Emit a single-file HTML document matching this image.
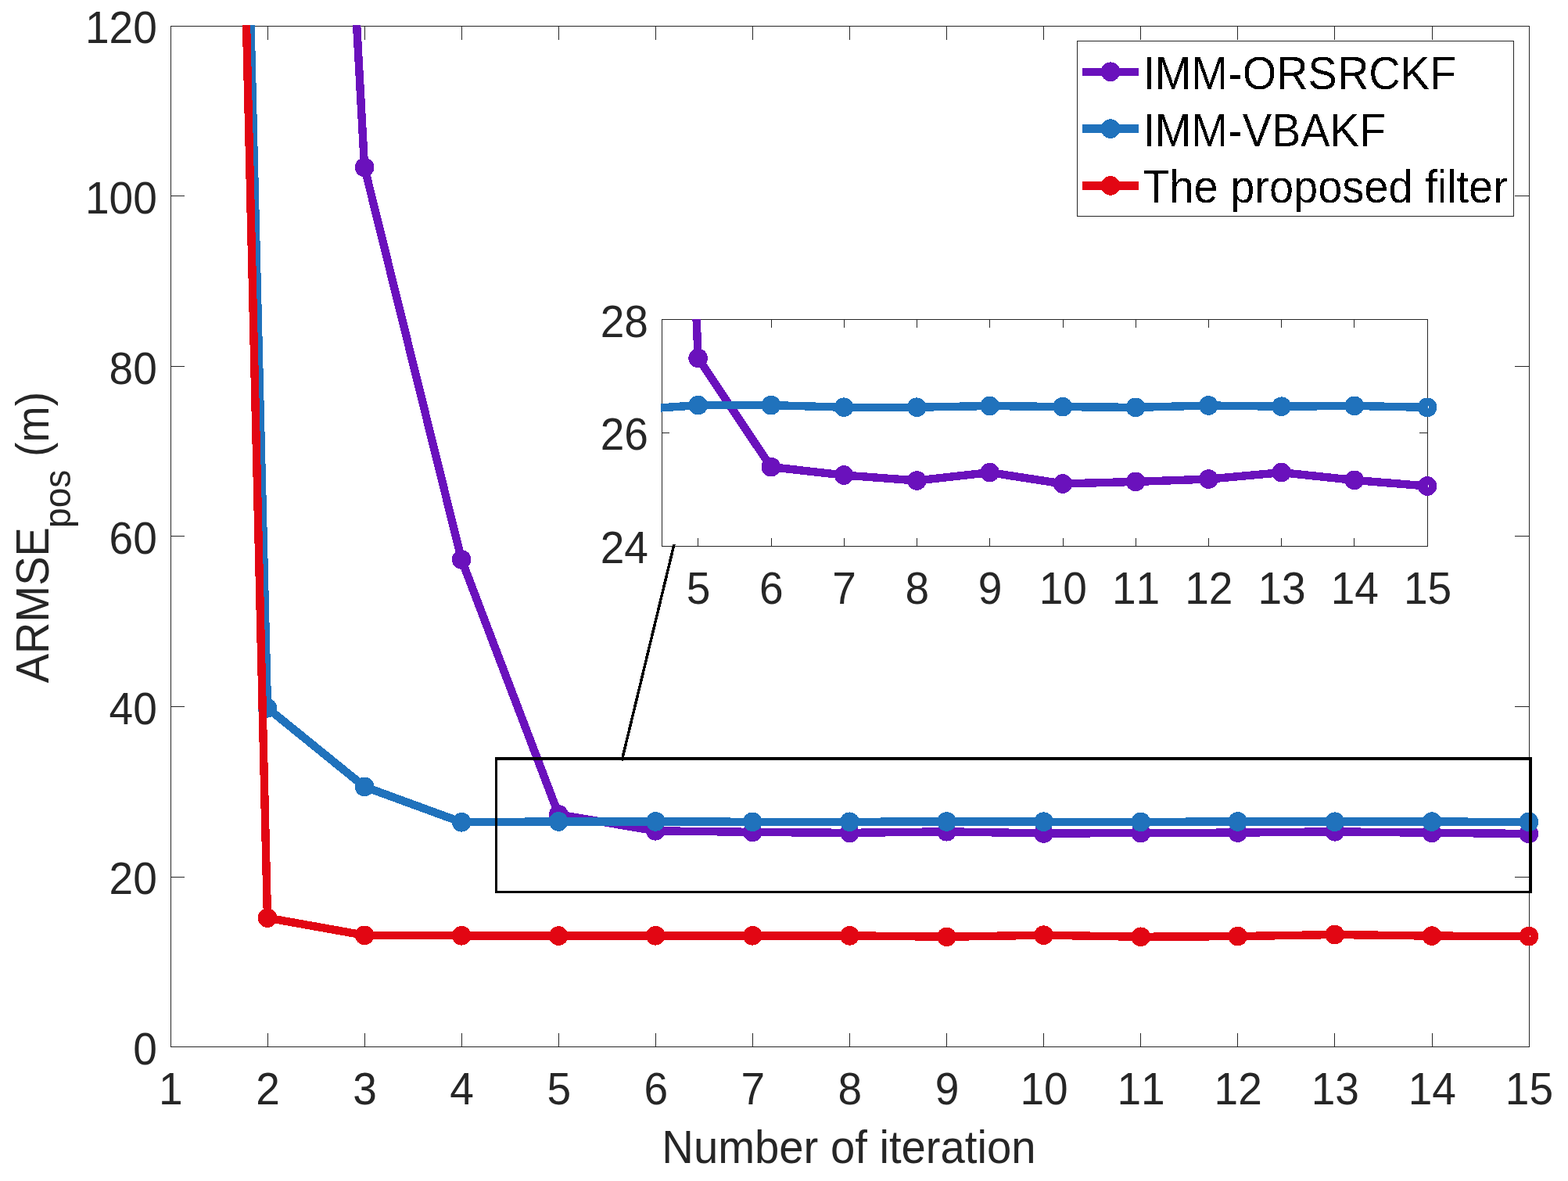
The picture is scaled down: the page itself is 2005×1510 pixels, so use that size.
<!DOCTYPE html>
<html lang="en">
<head>
<meta charset="utf-8">
<title>ARMSE vs. number of iteration</title>
<style>
html,body{margin:0;padding:0;background:#fff;}
body{width:2005px;height:1510px;overflow:hidden;}
svg{display:block;}
text{font-kerning:none;font-variant-ligatures:none;white-space:pre;}
</style>
</head>
<body>
<svg width="2005" height="1510" viewBox="0 0 2005 1510">
<rect x="0" y="0" width="2005" height="1510" fill="#ffffff"/>
<defs>
<clipPath id="cm"><rect x="218.0" y="32.0" width="1738.0" height="1307.0"/></clipPath>
<clipPath id="ci"><rect x="845.0" y="408.0" width="981.0" height="291.0"/></clipPath>
<filter id="hard" filterUnits="userSpaceOnUse" x="1455" y="55" width="480" height="220" color-interpolation-filters="sRGB"><feComponentTransfer><feFuncA type="discrete" tableValues="0 0 0 1 1"/></feComponentTransfer></filter>
</defs>
<g id="main-axes">
<g fill="#262626" shape-rendering="crispEdges">
<path fill-rule="evenodd" d="M218 33 H1956 V1339 H218 Z M219 34 V1338 H1955 V34 Z"/>
<path d="M342 1321h1v17h-1zM342 34h1v17h-1zM466 1321h1v17h-1zM466 34h1v17h-1zM590 1321h1v17h-1zM590 34h1v17h-1zM714 1321h1v17h-1zM714 34h1v17h-1zM838 1321h1v17h-1zM838 34h1v17h-1zM962 1321h1v17h-1zM962 34h1v17h-1zM1086 1321h1v17h-1zM1086 34h1v17h-1zM1210 1321h1v17h-1zM1210 34h1v17h-1zM1334 1321h1v17h-1zM1334 34h1v17h-1zM1458 1321h1v17h-1zM1458 34h1v17h-1zM1582 1321h1v17h-1zM1582 34h1v17h-1zM1706 1321h1v17h-1zM1706 34h1v17h-1zM1831 1321h1v17h-1zM1831 34h1v17h-1zM219 1121h17v1h-17zM1937 1121h18v1h-18zM219 903h17v1h-17zM1937 903h18v1h-18zM219 685h17v1h-17zM1937 685h18v1h-18zM219 468h17v1h-17zM1937 468h18v1h-18zM219 250h17v1h-17zM1937 250h18v1h-18z"/>
</g>
<g shape-rendering="crispEdges">
<g clip-path="url(#cm)"><polyline fill="none" stroke="#6A11BC" stroke-width="10.4" stroke-linejoin="round" points="217.95,-4300 342.02,-2057.1 466.09,214 590.16,715.4 714.24,1041.4 838.31,1062.3 962.38,1063.9 1086.45,1064.9 1210.52,1063.3 1334.59,1065.5 1458.66,1065.1 1582.74,1064.6 1706.81,1063.3 1830.88,1064.8 1955.55,1066.01"/></g>
<path fill="#6A11BC" fill-rule="evenodd" d="M453.79 214 A12.3 12.3 0 1 1 478.39 214 A12.3 12.3 0 1 1 453.79 214 Z M464.19 214 A1.9 1.9 0 1 0 467.99 214 A1.9 1.9 0 1 0 464.19 214 Z"/>
<path fill="#6A11BC" fill-rule="evenodd" d="M577.86 715.4 A12.3 12.3 0 1 1 602.46 715.4 A12.3 12.3 0 1 1 577.86 715.4 Z M588.26 715.4 A1.9 1.9 0 1 0 592.06 715.4 A1.9 1.9 0 1 0 588.26 715.4 Z"/>
<path fill="#6A11BC" fill-rule="evenodd" d="M701.94 1041.4 A12.3 12.3 0 1 1 726.54 1041.4 A12.3 12.3 0 1 1 701.94 1041.4 Z M712.34 1041.4 A1.9 1.9 0 1 0 716.14 1041.4 A1.9 1.9 0 1 0 712.34 1041.4 Z"/>
<path fill="#6A11BC" fill-rule="evenodd" d="M826.01 1062.3 A12.3 12.3 0 1 1 850.61 1062.3 A12.3 12.3 0 1 1 826.01 1062.3 Z M836.41 1062.3 A1.9 1.9 0 1 0 840.21 1062.3 A1.9 1.9 0 1 0 836.41 1062.3 Z"/>
<path fill="#6A11BC" fill-rule="evenodd" d="M950.08 1063.9 A12.3 12.3 0 1 1 974.68 1063.9 A12.3 12.3 0 1 1 950.08 1063.9 Z M960.48 1063.9 A1.9 1.9 0 1 0 964.28 1063.9 A1.9 1.9 0 1 0 960.48 1063.9 Z"/>
<path fill="#6A11BC" fill-rule="evenodd" d="M1074.15 1064.9 A12.3 12.3 0 1 1 1098.75 1064.9 A12.3 12.3 0 1 1 1074.15 1064.9 Z M1084.55 1064.9 A1.9 1.9 0 1 0 1088.35 1064.9 A1.9 1.9 0 1 0 1084.55 1064.9 Z"/>
<path fill="#6A11BC" fill-rule="evenodd" d="M1198.22 1063.3 A12.3 12.3 0 1 1 1222.82 1063.3 A12.3 12.3 0 1 1 1198.22 1063.3 Z M1208.62 1063.3 A1.9 1.9 0 1 0 1212.42 1063.3 A1.9 1.9 0 1 0 1208.62 1063.3 Z"/>
<path fill="#6A11BC" fill-rule="evenodd" d="M1322.29 1065.5 A12.3 12.3 0 1 1 1346.89 1065.5 A12.3 12.3 0 1 1 1322.29 1065.5 Z M1332.69 1065.5 A1.9 1.9 0 1 0 1336.49 1065.5 A1.9 1.9 0 1 0 1332.69 1065.5 Z"/>
<path fill="#6A11BC" fill-rule="evenodd" d="M1446.36 1065.1 A12.3 12.3 0 1 1 1470.96 1065.1 A12.3 12.3 0 1 1 1446.36 1065.1 Z M1456.76 1065.1 A1.9 1.9 0 1 0 1460.56 1065.1 A1.9 1.9 0 1 0 1456.76 1065.1 Z"/>
<path fill="#6A11BC" fill-rule="evenodd" d="M1570.44 1064.6 A12.3 12.3 0 1 1 1595.04 1064.6 A12.3 12.3 0 1 1 1570.44 1064.6 Z M1580.84 1064.6 A1.9 1.9 0 1 0 1584.64 1064.6 A1.9 1.9 0 1 0 1580.84 1064.6 Z"/>
<path fill="#6A11BC" fill-rule="evenodd" d="M1694.51 1063.3 A12.3 12.3 0 1 1 1719.11 1063.3 A12.3 12.3 0 1 1 1694.51 1063.3 Z M1704.91 1063.3 A1.9 1.9 0 1 0 1708.71 1063.3 A1.9 1.9 0 1 0 1704.91 1063.3 Z"/>
<path fill="#6A11BC" fill-rule="evenodd" d="M1818.58 1064.8 A12.3 12.3 0 1 1 1843.18 1064.8 A12.3 12.3 0 1 1 1818.58 1064.8 Z M1828.98 1064.8 A1.9 1.9 0 1 0 1832.78 1064.8 A1.9 1.9 0 1 0 1828.98 1064.8 Z"/>
<path fill="#6A11BC" fill-rule="evenodd" d="M1942.65 1066 A12.3 12.3 0 1 1 1967.25 1066 A12.3 12.3 0 1 1 1942.65 1066 Z M1953.05 1066 A1.9 1.9 0 1 0 1956.85 1066 A1.9 1.9 0 1 0 1953.05 1066 Z"/>
<g clip-path="url(#cm)"><polyline fill="none" stroke="#2072BC" stroke-width="10.4" stroke-linejoin="round" points="217.95,-4131.6 342.02,905.3 466.09,1005.9 590.16,1051.3 714.24,1050.4 838.31,1050.4 962.38,1050.8 1086.45,1050.8 1210.52,1050.5 1334.59,1050.7 1458.66,1050.9 1582.74,1050.5 1706.81,1050.7 1830.88,1050.6 1955.55,1050.9"/></g>
<path fill="#2072BC" fill-rule="evenodd" d="M329.72 905.3 A12.3 12.3 0 1 1 354.32 905.3 A12.3 12.3 0 1 1 329.72 905.3 Z M340.12 905.3 A1.9 1.9 0 1 0 343.92 905.3 A1.9 1.9 0 1 0 340.12 905.3 Z"/>
<path fill="#2072BC" fill-rule="evenodd" d="M453.79 1005.9 A12.3 12.3 0 1 1 478.39 1005.9 A12.3 12.3 0 1 1 453.79 1005.9 Z M464.19 1005.9 A1.9 1.9 0 1 0 467.99 1005.9 A1.9 1.9 0 1 0 464.19 1005.9 Z"/>
<path fill="#2072BC" fill-rule="evenodd" d="M577.86 1051.3 A12.3 12.3 0 1 1 602.46 1051.3 A12.3 12.3 0 1 1 577.86 1051.3 Z M588.26 1051.3 A1.9 1.9 0 1 0 592.06 1051.3 A1.9 1.9 0 1 0 588.26 1051.3 Z"/>
<path fill="#2072BC" fill-rule="evenodd" d="M701.94 1050.4 A12.3 12.3 0 1 1 726.54 1050.4 A12.3 12.3 0 1 1 701.94 1050.4 Z M712.34 1050.4 A1.9 1.9 0 1 0 716.14 1050.4 A1.9 1.9 0 1 0 712.34 1050.4 Z"/>
<path fill="#2072BC" fill-rule="evenodd" d="M826.01 1050.4 A12.3 12.3 0 1 1 850.61 1050.4 A12.3 12.3 0 1 1 826.01 1050.4 Z M836.41 1050.4 A1.9 1.9 0 1 0 840.21 1050.4 A1.9 1.9 0 1 0 836.41 1050.4 Z"/>
<path fill="#2072BC" fill-rule="evenodd" d="M950.08 1050.8 A12.3 12.3 0 1 1 974.68 1050.8 A12.3 12.3 0 1 1 950.08 1050.8 Z M960.48 1050.8 A1.9 1.9 0 1 0 964.28 1050.8 A1.9 1.9 0 1 0 960.48 1050.8 Z"/>
<path fill="#2072BC" fill-rule="evenodd" d="M1074.15 1050.8 A12.3 12.3 0 1 1 1098.75 1050.8 A12.3 12.3 0 1 1 1074.15 1050.8 Z M1084.55 1050.8 A1.9 1.9 0 1 0 1088.35 1050.8 A1.9 1.9 0 1 0 1084.55 1050.8 Z"/>
<path fill="#2072BC" fill-rule="evenodd" d="M1198.22 1050.5 A12.3 12.3 0 1 1 1222.82 1050.5 A12.3 12.3 0 1 1 1198.22 1050.5 Z M1208.62 1050.5 A1.9 1.9 0 1 0 1212.42 1050.5 A1.9 1.9 0 1 0 1208.62 1050.5 Z"/>
<path fill="#2072BC" fill-rule="evenodd" d="M1322.29 1050.7 A12.3 12.3 0 1 1 1346.89 1050.7 A12.3 12.3 0 1 1 1322.29 1050.7 Z M1332.69 1050.7 A1.9 1.9 0 1 0 1336.49 1050.7 A1.9 1.9 0 1 0 1332.69 1050.7 Z"/>
<path fill="#2072BC" fill-rule="evenodd" d="M1446.36 1050.9 A12.3 12.3 0 1 1 1470.96 1050.9 A12.3 12.3 0 1 1 1446.36 1050.9 Z M1456.76 1050.9 A1.9 1.9 0 1 0 1460.56 1050.9 A1.9 1.9 0 1 0 1456.76 1050.9 Z"/>
<path fill="#2072BC" fill-rule="evenodd" d="M1570.44 1050.5 A12.3 12.3 0 1 1 1595.04 1050.5 A12.3 12.3 0 1 1 1570.44 1050.5 Z M1580.84 1050.5 A1.9 1.9 0 1 0 1584.64 1050.5 A1.9 1.9 0 1 0 1580.84 1050.5 Z"/>
<path fill="#2072BC" fill-rule="evenodd" d="M1694.51 1050.7 A12.3 12.3 0 1 1 1719.11 1050.7 A12.3 12.3 0 1 1 1694.51 1050.7 Z M1704.91 1050.7 A1.9 1.9 0 1 0 1708.71 1050.7 A1.9 1.9 0 1 0 1704.91 1050.7 Z"/>
<path fill="#2072BC" fill-rule="evenodd" d="M1818.58 1050.6 A12.3 12.3 0 1 1 1843.18 1050.6 A12.3 12.3 0 1 1 1818.58 1050.6 Z M1828.98 1050.6 A1.9 1.9 0 1 0 1832.78 1050.6 A1.9 1.9 0 1 0 1828.98 1050.6 Z"/>
<path fill="#2072BC" fill-rule="evenodd" d="M1942.65 1050.9 A12.3 12.3 0 1 1 1967.25 1050.9 A12.3 12.3 0 1 1 1942.65 1050.9 Z M1953.05 1050.9 A1.9 1.9 0 1 0 1956.85 1050.9 A1.9 1.9 0 1 0 1953.05 1050.9 Z"/>
<g clip-path="url(#cm)"><polyline fill="none" stroke="#E20613" stroke-width="10.4" stroke-linejoin="round" points="217.95,-4079 342.02,1173.6 466.09,1195.8 590.16,1196.3 714.24,1196.6 838.31,1196.3 962.38,1196.3 1086.45,1196.3 1210.52,1197.8 1334.59,1195.7 1458.66,1197.8 1582.74,1197.1 1706.81,1195 1830.88,1196.6 1955.55,1197.1"/></g>
<path fill="#E20613" fill-rule="evenodd" d="M329.72 1173.6 A12.3 12.3 0 1 1 354.32 1173.6 A12.3 12.3 0 1 1 329.72 1173.6 Z M340.12 1173.6 A1.9 1.9 0 1 0 343.92 1173.6 A1.9 1.9 0 1 0 340.12 1173.6 Z"/>
<path fill="#E20613" fill-rule="evenodd" d="M453.79 1195.8 A12.3 12.3 0 1 1 478.39 1195.8 A12.3 12.3 0 1 1 453.79 1195.8 Z M464.19 1195.8 A1.9 1.9 0 1 0 467.99 1195.8 A1.9 1.9 0 1 0 464.19 1195.8 Z"/>
<path fill="#E20613" fill-rule="evenodd" d="M577.86 1196.3 A12.3 12.3 0 1 1 602.46 1196.3 A12.3 12.3 0 1 1 577.86 1196.3 Z M588.26 1196.3 A1.9 1.9 0 1 0 592.06 1196.3 A1.9 1.9 0 1 0 588.26 1196.3 Z"/>
<path fill="#E20613" fill-rule="evenodd" d="M701.94 1196.6 A12.3 12.3 0 1 1 726.54 1196.6 A12.3 12.3 0 1 1 701.94 1196.6 Z M712.34 1196.6 A1.9 1.9 0 1 0 716.14 1196.6 A1.9 1.9 0 1 0 712.34 1196.6 Z"/>
<path fill="#E20613" fill-rule="evenodd" d="M826.01 1196.3 A12.3 12.3 0 1 1 850.61 1196.3 A12.3 12.3 0 1 1 826.01 1196.3 Z M836.41 1196.3 A1.9 1.9 0 1 0 840.21 1196.3 A1.9 1.9 0 1 0 836.41 1196.3 Z"/>
<path fill="#E20613" fill-rule="evenodd" d="M950.08 1196.3 A12.3 12.3 0 1 1 974.68 1196.3 A12.3 12.3 0 1 1 950.08 1196.3 Z M960.48 1196.3 A1.9 1.9 0 1 0 964.28 1196.3 A1.9 1.9 0 1 0 960.48 1196.3 Z"/>
<path fill="#E20613" fill-rule="evenodd" d="M1074.15 1196.3 A12.3 12.3 0 1 1 1098.75 1196.3 A12.3 12.3 0 1 1 1074.15 1196.3 Z M1084.55 1196.3 A1.9 1.9 0 1 0 1088.35 1196.3 A1.9 1.9 0 1 0 1084.55 1196.3 Z"/>
<path fill="#E20613" fill-rule="evenodd" d="M1198.22 1197.8 A12.3 12.3 0 1 1 1222.82 1197.8 A12.3 12.3 0 1 1 1198.22 1197.8 Z M1208.62 1197.8 A1.9 1.9 0 1 0 1212.42 1197.8 A1.9 1.9 0 1 0 1208.62 1197.8 Z"/>
<path fill="#E20613" fill-rule="evenodd" d="M1322.29 1195.7 A12.3 12.3 0 1 1 1346.89 1195.7 A12.3 12.3 0 1 1 1322.29 1195.7 Z M1332.69 1195.7 A1.9 1.9 0 1 0 1336.49 1195.7 A1.9 1.9 0 1 0 1332.69 1195.7 Z"/>
<path fill="#E20613" fill-rule="evenodd" d="M1446.36 1197.8 A12.3 12.3 0 1 1 1470.96 1197.8 A12.3 12.3 0 1 1 1446.36 1197.8 Z M1456.76 1197.8 A1.9 1.9 0 1 0 1460.56 1197.8 A1.9 1.9 0 1 0 1456.76 1197.8 Z"/>
<path fill="#E20613" fill-rule="evenodd" d="M1570.44 1197.1 A12.3 12.3 0 1 1 1595.04 1197.1 A12.3 12.3 0 1 1 1570.44 1197.1 Z M1580.84 1197.1 A1.9 1.9 0 1 0 1584.64 1197.1 A1.9 1.9 0 1 0 1580.84 1197.1 Z"/>
<path fill="#E20613" fill-rule="evenodd" d="M1694.51 1195 A12.3 12.3 0 1 1 1719.11 1195 A12.3 12.3 0 1 1 1694.51 1195 Z M1704.91 1195 A1.9 1.9 0 1 0 1708.71 1195 A1.9 1.9 0 1 0 1704.91 1195 Z"/>
<path fill="#E20613" fill-rule="evenodd" d="M1818.58 1196.6 A12.3 12.3 0 1 1 1843.18 1196.6 A12.3 12.3 0 1 1 1818.58 1196.6 Z M1828.98 1196.6 A1.9 1.9 0 1 0 1832.78 1196.6 A1.9 1.9 0 1 0 1828.98 1196.6 Z"/>
<path fill="#E20613" fill-rule="evenodd" d="M1942.65 1197.1 A12.3 12.3 0 1 1 1967.25 1197.1 A12.3 12.3 0 1 1 1942.65 1197.1 Z M1953.05 1197.1 A1.9 1.9 0 1 0 1956.85 1197.1 A1.9 1.9 0 1 0 1953.05 1197.1 Z"/>
<path fill="#000" fill-rule="evenodd" d="M633 968 H1959 V1142 H633 Z M636 972 V1139 H1955 V972 Z"/>
<line x1="862.0" y1="696" x2="795.1" y2="972.6" stroke="#000" stroke-width="3.5"/>
</g>
</g>
<g id="inset-axes">
<rect x="846.5" y="408.5" width="979.0" height="290.0" fill="#fff"/>
<g fill="#262626" shape-rendering="crispEdges">
<path fill-rule="evenodd" d="M846 408 H1826 V699 H846 Z M847 409 V698 H1825 V409 Z"/>
<path d="M892 688h1v10h-1zM892 409h1v10h-1zM986 688h1v10h-1zM986 409h1v10h-1zM1079 688h1v10h-1zM1079 409h1v10h-1zM1172 688h1v10h-1zM1172 409h1v10h-1zM1265 688h1v10h-1zM1265 409h1v10h-1zM1359 688h1v10h-1zM1359 409h1v10h-1zM1452 688h1v10h-1zM1452 409h1v10h-1zM1545 688h1v10h-1zM1545 409h1v10h-1zM1638 688h1v10h-1zM1638 409h1v10h-1zM1731 688h1v10h-1zM1731 409h1v10h-1zM847 553h9v1h-9zM1815 553h10v1h-10z"/>
</g>
<g shape-rendering="crispEdges">
<g clip-path="url(#ci)"><polyline fill="none" stroke="#6A11BC" stroke-width="10.4" stroke-linejoin="round" points="799.43,-1765 892.67,457.9 985.91,597.1 1079.15,607.5 1172.39,614.5 1265.63,604.1 1358.87,618.5 1452.11,615.9 1545.35,612.6 1638.59,604.1 1731.83,613.9 1825.67,621.55"/></g>
<path fill="#6A11BC" fill-rule="evenodd" d="M880.37 457.9 A12.3 12.3 0 1 1 904.97 457.9 A12.3 12.3 0 1 1 880.37 457.9 Z M890.77 457.9 A1.9 1.9 0 1 0 894.57 457.9 A1.9 1.9 0 1 0 890.77 457.9 Z"/>
<path fill="#6A11BC" fill-rule="evenodd" d="M973.61 597.1 A12.3 12.3 0 1 1 998.21 597.1 A12.3 12.3 0 1 1 973.61 597.1 Z M984.01 597.1 A1.9 1.9 0 1 0 987.81 597.1 A1.9 1.9 0 1 0 984.01 597.1 Z"/>
<path fill="#6A11BC" fill-rule="evenodd" d="M1066.85 607.5 A12.3 12.3 0 1 1 1091.45 607.5 A12.3 12.3 0 1 1 1066.85 607.5 Z M1077.25 607.5 A1.9 1.9 0 1 0 1081.05 607.5 A1.9 1.9 0 1 0 1077.25 607.5 Z"/>
<path fill="#6A11BC" fill-rule="evenodd" d="M1160.09 614.5 A12.3 12.3 0 1 1 1184.69 614.5 A12.3 12.3 0 1 1 1160.09 614.5 Z M1170.49 614.5 A1.9 1.9 0 1 0 1174.29 614.5 A1.9 1.9 0 1 0 1170.49 614.5 Z"/>
<path fill="#6A11BC" fill-rule="evenodd" d="M1253.33 604.1 A12.3 12.3 0 1 1 1277.93 604.1 A12.3 12.3 0 1 1 1253.33 604.1 Z M1263.73 604.1 A1.9 1.9 0 1 0 1267.53 604.1 A1.9 1.9 0 1 0 1263.73 604.1 Z"/>
<path fill="#6A11BC" fill-rule="evenodd" d="M1346.57 618.5 A12.3 12.3 0 1 1 1371.17 618.5 A12.3 12.3 0 1 1 1346.57 618.5 Z M1356.97 618.5 A1.9 1.9 0 1 0 1360.77 618.5 A1.9 1.9 0 1 0 1356.97 618.5 Z"/>
<path fill="#6A11BC" fill-rule="evenodd" d="M1439.81 615.9 A12.3 12.3 0 1 1 1464.41 615.9 A12.3 12.3 0 1 1 1439.81 615.9 Z M1450.21 615.9 A1.9 1.9 0 1 0 1454.01 615.9 A1.9 1.9 0 1 0 1450.21 615.9 Z"/>
<path fill="#6A11BC" fill-rule="evenodd" d="M1533.05 612.6 A12.3 12.3 0 1 1 1557.65 612.6 A12.3 12.3 0 1 1 1533.05 612.6 Z M1543.45 612.6 A1.9 1.9 0 1 0 1547.25 612.6 A1.9 1.9 0 1 0 1543.45 612.6 Z"/>
<path fill="#6A11BC" fill-rule="evenodd" d="M1626.29 604.1 A12.3 12.3 0 1 1 1650.89 604.1 A12.3 12.3 0 1 1 1626.29 604.1 Z M1636.69 604.1 A1.9 1.9 0 1 0 1640.49 604.1 A1.9 1.9 0 1 0 1636.69 604.1 Z"/>
<path fill="#6A11BC" fill-rule="evenodd" d="M1719.53 613.9 A12.3 12.3 0 1 1 1744.13 613.9 A12.3 12.3 0 1 1 1719.53 613.9 Z M1729.93 613.9 A1.9 1.9 0 1 0 1733.73 613.9 A1.9 1.9 0 1 0 1729.93 613.9 Z"/>
<path fill="#6A11BC" fill-rule="evenodd" d="M1812.77 621.5 A12.3 12.3 0 1 1 1837.37 621.5 A12.3 12.3 0 1 1 1812.77 621.5 Z M1823.17 621.5 A1.9 1.9 0 1 0 1826.97 621.5 A1.9 1.9 0 1 0 1823.17 621.5 Z"/>
<g clip-path="url(#ci)"><polyline fill="none" stroke="#2072BC" stroke-width="10.4" stroke-linejoin="round" points="799.43,524.6 892.67,518.1 985.91,518.1 1079.15,520.7 1172.39,520.7 1265.63,519 1358.87,520.1 1452.11,520.9 1545.35,518.5 1638.59,519.7 1731.83,518.9 1825.67,520.91"/></g>
<path fill="#2072BC" fill-rule="evenodd" d="M880.37 518.1 A12.3 12.3 0 1 1 904.97 518.1 A12.3 12.3 0 1 1 880.37 518.1 Z M890.77 518.1 A1.9 1.9 0 1 0 894.57 518.1 A1.9 1.9 0 1 0 890.77 518.1 Z"/>
<path fill="#2072BC" fill-rule="evenodd" d="M973.61 518.1 A12.3 12.3 0 1 1 998.21 518.1 A12.3 12.3 0 1 1 973.61 518.1 Z M984.01 518.1 A1.9 1.9 0 1 0 987.81 518.1 A1.9 1.9 0 1 0 984.01 518.1 Z"/>
<path fill="#2072BC" fill-rule="evenodd" d="M1066.85 520.7 A12.3 12.3 0 1 1 1091.45 520.7 A12.3 12.3 0 1 1 1066.85 520.7 Z M1077.25 520.7 A1.9 1.9 0 1 0 1081.05 520.7 A1.9 1.9 0 1 0 1077.25 520.7 Z"/>
<path fill="#2072BC" fill-rule="evenodd" d="M1160.09 520.7 A12.3 12.3 0 1 1 1184.69 520.7 A12.3 12.3 0 1 1 1160.09 520.7 Z M1170.49 520.7 A1.9 1.9 0 1 0 1174.29 520.7 A1.9 1.9 0 1 0 1170.49 520.7 Z"/>
<path fill="#2072BC" fill-rule="evenodd" d="M1253.33 519 A12.3 12.3 0 1 1 1277.93 519 A12.3 12.3 0 1 1 1253.33 519 Z M1263.73 519 A1.9 1.9 0 1 0 1267.53 519 A1.9 1.9 0 1 0 1263.73 519 Z"/>
<path fill="#2072BC" fill-rule="evenodd" d="M1346.57 520.1 A12.3 12.3 0 1 1 1371.17 520.1 A12.3 12.3 0 1 1 1346.57 520.1 Z M1356.97 520.1 A1.9 1.9 0 1 0 1360.77 520.1 A1.9 1.9 0 1 0 1356.97 520.1 Z"/>
<path fill="#2072BC" fill-rule="evenodd" d="M1439.81 520.9 A12.3 12.3 0 1 1 1464.41 520.9 A12.3 12.3 0 1 1 1439.81 520.9 Z M1450.21 520.9 A1.9 1.9 0 1 0 1454.01 520.9 A1.9 1.9 0 1 0 1450.21 520.9 Z"/>
<path fill="#2072BC" fill-rule="evenodd" d="M1533.05 518.5 A12.3 12.3 0 1 1 1557.65 518.5 A12.3 12.3 0 1 1 1533.05 518.5 Z M1543.45 518.5 A1.9 1.9 0 1 0 1547.25 518.5 A1.9 1.9 0 1 0 1543.45 518.5 Z"/>
<path fill="#2072BC" fill-rule="evenodd" d="M1626.29 519.7 A12.3 12.3 0 1 1 1650.89 519.7 A12.3 12.3 0 1 1 1626.29 519.7 Z M1636.69 519.7 A1.9 1.9 0 1 0 1640.49 519.7 A1.9 1.9 0 1 0 1636.69 519.7 Z"/>
<path fill="#2072BC" fill-rule="evenodd" d="M1719.53 518.9 A12.3 12.3 0 1 1 1744.13 518.9 A12.3 12.3 0 1 1 1719.53 518.9 Z M1729.93 518.9 A1.9 1.9 0 1 0 1733.73 518.9 A1.9 1.9 0 1 0 1729.93 518.9 Z"/>
<path fill="#2072BC" fill-rule="evenodd" d="M1812.77 520.9 A12.3 12.3 0 1 1 1837.37 520.9 A12.3 12.3 0 1 1 1812.77 520.9 Z M1823.17 520.9 A1.9 1.9 0 1 0 1826.97 520.9 A1.9 1.9 0 1 0 1823.17 520.9 Z"/>
<line x1="862.0" y1="696" x2="795.1" y2="972.6" stroke="#000" stroke-width="3.5"/>
</g>
</g>
<g id="labels" font-family="'Liberation Sans', Arial, Helvetica, sans-serif" fill="#262626">
<text transform="translate(218.4,1412) scale(0.953,1)" font-size="57.8" text-anchor="middle">1</text>
<text transform="translate(342.47,1412) scale(0.953,1)" font-size="57.8" text-anchor="middle">2</text>
<text transform="translate(466.54,1412) scale(0.953,1)" font-size="57.8" text-anchor="middle">3</text>
<text transform="translate(590.61,1412) scale(0.953,1)" font-size="57.8" text-anchor="middle">4</text>
<text transform="translate(714.69,1412) scale(0.953,1)" font-size="57.8" text-anchor="middle">5</text>
<text transform="translate(838.76,1412) scale(0.953,1)" font-size="57.8" text-anchor="middle">6</text>
<text transform="translate(962.83,1412) scale(0.953,1)" font-size="57.8" text-anchor="middle">7</text>
<text transform="translate(1086.9,1412) scale(0.953,1)" font-size="57.8" text-anchor="middle">8</text>
<text transform="translate(1210.97,1412) scale(0.953,1)" font-size="57.8" text-anchor="middle">9</text>
<text transform="translate(1335.04,1412) scale(0.953,1)" font-size="57.8" text-anchor="middle">10</text>
<text transform="translate(1459.11,1412) scale(0.953,1)" font-size="57.8" text-anchor="middle">11</text>
<text transform="translate(1583.19,1412) scale(0.953,1)" font-size="57.8" text-anchor="middle">12</text>
<text transform="translate(1707.26,1412) scale(0.953,1)" font-size="57.8" text-anchor="middle">13</text>
<text transform="translate(1831.33,1412) scale(0.953,1)" font-size="57.8" text-anchor="middle">14</text>
<text transform="translate(1955.4,1412) scale(0.953,1)" font-size="57.8" text-anchor="middle">15</text>
<text transform="translate(200.8,1361) scale(0.953,1)" font-size="57.8" text-anchor="end">0</text>
<text transform="translate(200.8,1143.3) scale(0.953,1)" font-size="57.8" text-anchor="end">20</text>
<text transform="translate(200.8,925.7) scale(0.953,1)" font-size="57.8" text-anchor="end">40</text>
<text transform="translate(200.8,708.1) scale(0.953,1)" font-size="57.8" text-anchor="end">60</text>
<text transform="translate(200.8,490.6) scale(0.953,1)" font-size="57.8" text-anchor="end">80</text>
<text transform="translate(200.8,272.9) scale(0.953,1)" font-size="57.8" text-anchor="end">100</text>
<text transform="translate(200.8,54.8) scale(0.953,1)" font-size="57.8" text-anchor="end">120</text>
<text transform="translate(893.12,772) scale(0.953,1)" font-size="57.8" text-anchor="middle">5</text>
<text transform="translate(986.36,772) scale(0.953,1)" font-size="57.8" text-anchor="middle">6</text>
<text transform="translate(1079.6,772) scale(0.953,1)" font-size="57.8" text-anchor="middle">7</text>
<text transform="translate(1172.84,772) scale(0.953,1)" font-size="57.8" text-anchor="middle">8</text>
<text transform="translate(1266.08,772) scale(0.953,1)" font-size="57.8" text-anchor="middle">9</text>
<text transform="translate(1359.32,772) scale(0.953,1)" font-size="57.8" text-anchor="middle">10</text>
<text transform="translate(1452.56,772) scale(0.953,1)" font-size="57.8" text-anchor="middle">11</text>
<text transform="translate(1545.8,772) scale(0.953,1)" font-size="57.8" text-anchor="middle">12</text>
<text transform="translate(1639.04,772) scale(0.953,1)" font-size="57.8" text-anchor="middle">13</text>
<text transform="translate(1732.28,772) scale(0.953,1)" font-size="57.8" text-anchor="middle">14</text>
<text transform="translate(1825.52,772) scale(0.953,1)" font-size="57.8" text-anchor="middle">15</text>
<text transform="translate(829,719.85) scale(0.953,1)" font-size="57.8" text-anchor="end">24</text>
<text transform="translate(829,574.85) scale(0.953,1)" font-size="57.8" text-anchor="end">26</text>
<text transform="translate(829,430.9) scale(0.953,1)" font-size="57.8" text-anchor="end">28</text>
<text transform="translate(1085.4,1486.8) scale(0.947,1)" font-size="59.4" text-anchor="middle">Number of iteration</text>
<text transform="translate(62,873.3) rotate(-90) scale(0.943,1)" font-size="59.4">ARMSE</text>
<text transform="translate(90.3,674.9) rotate(-90) scale(0.965,1)" font-size="47.7">pos</text>
<text transform="translate(62,583.9) rotate(-90) scale(0.933,1)" font-size="59.4">(m)</text>
</g>
<g id="legend">
<g shape-rendering="crispEdges">
<rect x="1377.5" y="52.5" width="558" height="224" fill="#fff" stroke="#262626" stroke-width="1"/>
<line x1="1384" y1="91.75" x2="1456" y2="91.75" stroke="#6A11BC" stroke-width="10.4"/>
<path fill="#6A11BC" fill-rule="evenodd" d="M1407.7 91.75 A12.3 12.3 0 1 1 1432.3 91.75 A12.3 12.3 0 1 1 1407.7 91.75 Z M1418.1 91.75 A1.9 1.9 0 1 0 1421.9 91.75 A1.9 1.9 0 1 0 1418.1 91.75 Z"/>
<line x1="1384" y1="164.65" x2="1456" y2="164.65" stroke="#2072BC" stroke-width="10.4"/>
<path fill="#2072BC" fill-rule="evenodd" d="M1407.7 164.65 A12.3 12.3 0 1 1 1432.3 164.65 A12.3 12.3 0 1 1 1407.7 164.65 Z M1418.1 164.65 A1.9 1.9 0 1 0 1421.9 164.65 A1.9 1.9 0 1 0 1418.1 164.65 Z"/>
<line x1="1384" y1="237.4" x2="1456" y2="237.4" stroke="#E20613" stroke-width="10.4"/>
<path fill="#E20613" fill-rule="evenodd" d="M1407.7 237.4 A12.3 12.3 0 1 1 1432.3 237.4 A12.3 12.3 0 1 1 1407.7 237.4 Z M1418.1 237.4 A1.9 1.9 0 1 0 1421.9 237.4 A1.9 1.9 0 1 0 1418.1 237.4 Z"/>
</g>
<g font-family="'Liberation Sans', Arial, Helvetica, sans-serif" fill="#000" filter="url(#hard)">
<text transform="translate(1461.2,113.9) scale(0.9425,1)" font-size="59.4" text-anchor="start">IMM-ORSRCKF</text>
<text transform="translate(1461.2,186.5) scale(0.9425,1)" font-size="59.4" text-anchor="start">IMM-VBAKF</text>
<text transform="translate(1461.2,258.9) scale(0.9425,1)" font-size="59.4" text-anchor="start">The proposed filter</text>
</g>
</g>
</svg>
</body>
</html>
